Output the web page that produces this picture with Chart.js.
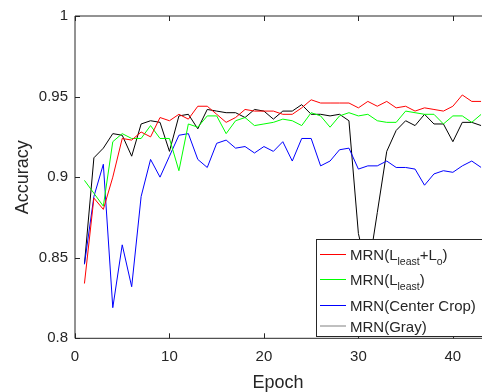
<!DOCTYPE html>
<html>
<head>
<meta charset="utf-8">
<script src="https://cdn.jsdelivr.net/npm/chart.js@4.4.1/dist/chart.umd.min.js"></script>
<style>
    html, body { margin: 0; padding: 0; background: #fff; }
    #wrap { width: 482px; height: 392px; position: relative; }
</style>
</head>
<body>
<div id="wrap"><canvas id="accChart" width="482" height="392"></canvas></div>
<script>
// Chart data
const epochs = [1, 2, 3, 4, 5, 6, 7, 8, 9, 10, 11, 12, 13, 14, 15, 16, 17, 18, 19, 20, 21, 22,
    23, 24, 25, 26, 27, 28, 29, 30, 31, 32, 33, 34, 35, 36, 37, 38, 39, 40, 41, 42, 43];

const accLeastLo = [0.834, 0.887, 0.880, 0.900, 0.924, 0.923, 0.928, 0.925, 0.937, 0.935, 0.939,
    0.936, 0.944, 0.944, 0.939, 0.934, 0.937, 0.942, 0.941, 0.941, 0.941, 0.939, 0.939, 0.943,
    0.948, 0.946, 0.946, 0.946, 0.946, 0.943, 0.947, 0.944, 0.947, 0.943, 0.944, 0.941, 0.943,
    0.942, 0.941, 0.944, 0.951, 0.947, 0.947];

const accLeast = [0.898, 0.890, 0.882, 0.922, 0.927, 0.924, 0.924, 0.932, 0.924, 0.924, 0.904,
    0.933, 0.931, 0.938, 0.938, 0.927, 0.935, 0.937, 0.932, 0.933, 0.934, 0.936, 0.935, 0.932,
    0.940, 0.938, 0.931, 0.938, 0.940, 0.938, 0.939, 0.935, 0.934, 0.934, 0.941, 0.940, 0.939,
    0.939, 0.933, 0.938, 0.938, 0.934, 0.939];

const accCenterCrop = [0.846, 0.888, 0.908, 0.819, 0.858, 0.832, 0.888, 0.911, 0.900, 0.913, 0.926,
    0.927, 0.911, 0.906, 0.921, 0.923, 0.918, 0.919, 0.915, 0.919, 0.916, 0.922, 0.910, 0.924,
    0.924, 0.907, 0.910, 0.917, 0.918, 0.905, 0.907, 0.907, 0.910, 0.906, 0.906, 0.905, 0.895,
    0.902, 0.904, 0.903, 0.907, 0.910, 0.906];

const accGray = [0.846, 0.912, 0.918, 0.927, 0.926, 0.913, 0.933, 0.935, 0.934, 0.916, 0.938,
    0.939, 0.930, 0.942, 0.941, 0.940, 0.940, 0.937, 0.942, 0.941, 0.936, 0.941, 0.941, 0.945,
    0.939, 0.939, 0.938, 0.939, 0.935, 0.865, 0.840, 0.878, 0.916, 0.929, 0.935, 0.932, 0.939,
    0.933, 0.933, 0.922, 0.934, 0.934, 0.932];

const seriesLabels = ['MRN(L_{least}+L_{o})', 'MRN(L_{least})', 'MRN(Center Crop)', 'MRN(Gray)'];
const seriesColors = ['#ff0000', '#00ff00', '#0000ff', '#000000'];
const legendSwatch = ['#ff0000', '#00ff00', '#0000ff', '#808080'];

const xTicks = [0, 10, 20, 30, 40];
const yTicks = [0.8, 0.85, 0.9, 0.95, 1];

const FONT = '"Liberation Sans", Arial, Helvetica, sans-serif';
const INK = '#262626';

function toPoints(values) {
    return values.map((v, i) => ({ x: epochs[i], y: v }));
}

// split 'L_{least}' style text into normal / subscript parts
function parseRich(text) {
    const parts = [];
    const re = /_\{([^}]*)\}/g;
    let last = 0, m;
    while ((m = re.exec(text)) !== null) {
        if (m.index > last) parts.push({ t: text.slice(last, m.index), sub: false });
        parts.push({ t: m[1], sub: true });
        last = re.lastIndex;
    }
    if (last < text.length) parts.push({ t: text.slice(last), sub: false });
    return parts;
}

// Axis box and inward tick marks (MATLAB look)
const framePlugin = {
    id: 'frame',
    afterDatasetsDraw(chart) {
        const { ctx, chartArea: a, scales } = chart;
        ctx.save();
        ctx.strokeStyle = INK;
        ctx.lineWidth = 1;
        ctx.beginPath();
        ctx.moveTo(a.left, a.top);
        ctx.lineTo(a.right + 2, a.top);
        ctx.moveTo(a.left, a.top);
        ctx.lineTo(a.left, a.bottom);
        ctx.lineTo(a.right + 2, a.bottom);
        ctx.stroke();

        ctx.beginPath();
        xTicks.forEach(t => {
            const x = Math.round(scales.x.getPixelForValue(t)) + 0.5;
            ctx.moveTo(x, a.bottom);
            ctx.lineTo(x, a.bottom - 5);
            ctx.moveTo(x, a.top);
            ctx.lineTo(x, a.top + 5);
        });
        yTicks.forEach(t => {
            const y = Math.round(scales.y.getPixelForValue(t)) + 0.5;
            ctx.moveTo(a.left, y);
            ctx.lineTo(a.left + 5, y);
        });
        ctx.stroke();
        ctx.restore();
    }
};

// Legend box drawn inside the plot, bottom right
const legendPlugin = {
    id: 'insetLegend',
    afterDatasetsDraw(chart) {
        const ctx = chart.ctx;
        const box = { x: 316.5, y: 239.5, w: 170, h: 97 };
        const rowY = [254.5, 279.5, 305.5, 326];
        ctx.save();
        ctx.fillStyle = '#fff';
        ctx.fillRect(box.x, box.y, box.w, box.h);
        ctx.strokeStyle = INK;
        ctx.lineWidth = 1;
        ctx.strokeRect(box.x, box.y, box.w, box.h);

        seriesLabels.forEach((label, i) => {
            const y = rowY[i];
            ctx.strokeStyle = legendSwatch[i];
            ctx.beginPath();
            ctx.moveTo(320, y);
            ctx.lineTo(346, y);
            ctx.stroke();

            let x = 350;
            const base = y + 5.5;
            ctx.fillStyle = INK;
            ctx.textBaseline = 'alphabetic';
            ctx.textAlign = 'left';
            parseRich(label).forEach(p => {
                ctx.font = (p.sub ? '10.5px ' : '15px ') + FONT;
                ctx.fillText(p.t, x, p.sub ? base + 5 : base);
                x += ctx.measureText(p.t).width;
            });
        });
        ctx.restore();
    }
};

function initializeChart() {
    const ctx = document.getElementById('accChart').getContext('2d');
    const allSeries = [accLeastLo, accLeast, accCenterCrop, accGray];

    new Chart(ctx, {
        type: 'line',
        data: {
            datasets: allSeries.map((values, i) => ({
                label: seriesLabels[i],
                data: toPoints(values),
                borderColor: seriesColors[i],
                borderWidth: 1,
                pointRadius: 0,
                tension: 0,
                fill: false
            }))
        },
        options: {
            responsive: false,
            animation: false,
            layout: { padding: { top: 15, right: 0.8, left: 0, bottom: 0 } },
            plugins: {
                legend: { display: false },
                tooltip: { enabled: false }
            },
            scales: {
                x: {
                    type: 'linear',
                    min: 0,
                    max: 43,
                    afterFit: scale => { scale.height = 53.7; },
                    afterBuildTicks: scale => { scale.ticks = xTicks.map(v => ({ value: v })); },
                    grid: { display: false, drawTicks: false },
                    border: { display: false },
                    ticks: {
                        color: INK,
                        font: { family: FONT, size: 15 },
                        padding: 10,
                        maxRotation: 0
                    },
                    title: {
                        display: true,
                        text: 'Epoch',
                        color: INK,
                        font: { family: FONT, size: 18, lineHeight: 1 },
                        padding: 0
                    }
                },
                y: {
                    min: 0.8,
                    max: 1,
                    afterFit: scale => { scale.width = 75; },
                    afterBuildTicks: scale => { scale.ticks = yTicks.map(v => ({ value: v })); },
                    grid: { display: false, drawTicks: false },
                    border: { display: false },
                    ticks: {
                        color: INK,
                        font: { family: FONT, size: 15 },
                        padding: 7,
                        callback: v => String(Number(v.toFixed(2)))
                    },
                    title: {
                        display: true,
                        text: 'Accuracy',
                        color: INK,
                        font: { family: FONT, size: 18, lineHeight: 1 },
                        padding: { top: 14, bottom: 0 }
                    }
                }
            }
        },
        plugins: [framePlugin, legendPlugin]
    });
}

document.addEventListener('DOMContentLoaded', initializeChart);
</script>
</body>
</html>
